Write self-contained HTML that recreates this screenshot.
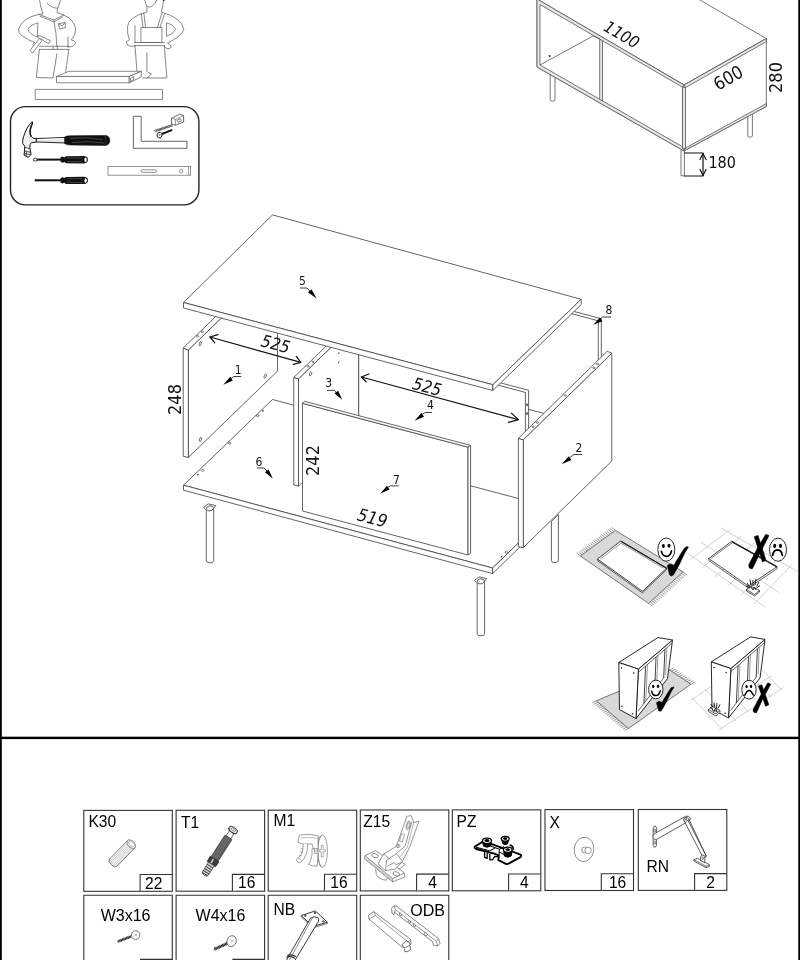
<!DOCTYPE html>
<html>
<head>
<meta charset="utf-8">
<title>Assembly</title>
<style>
html,body{margin:0;padding:0;background:#fff;}
body{width:800px;height:960px;overflow:hidden;position:relative;}
svg{position:absolute;left:0;top:0;display:block;will-change:transform;}
.ln{stroke:#484848;stroke-width:0.85;fill:none;stroke-linejoin:round;stroke-linecap:round;}
.lw{stroke:#484848;stroke-width:0.85;fill:#fff;stroke-linejoin:round;}
.thin{stroke:#555;stroke-width:0.7;fill:none;stroke-linejoin:round;stroke-linecap:round;}
.thinw{stroke:#555;stroke-width:0.7;fill:#fff;stroke-linejoin:round;}
.dim{font-family:"DejaVu Sans Condensed","DejaVu Sans",sans-serif;font-style:oblique;fill:#111;}
.dimr{font-family:"DejaVu Sans Condensed","DejaVu Sans",sans-serif;fill:#111;}
.num{font-family:"DejaVu Sans Condensed","DejaVu Sans",sans-serif;font-size:12px;fill:#111;}
.lab{font-family:"Liberation Sans",Arial,sans-serif;font-size:15.6px;fill:#000;}
.box{fill:#fff;stroke:#333;stroke-width:1.1;}
</style>
</head>
<body>
<svg width="800" height="960" viewBox="0 0 800 960">
<rect x="0" y="0" width="800" height="960" fill="#fff"/>
<!-- page frame -->
<rect x="0" y="0" width="1.8" height="960" fill="#000"/>
<rect x="798.3" y="0" width="1.7" height="960" fill="#000"/>
<rect x="0" y="736.7" width="800" height="2.4" fill="#000"/>

<!--MAIN-->
<g id="main">
<!-- bottom panel 6 -->
<polygon class="lw" points="183.5,485.2 272.5,399.5 581.8,481.5 492.6,568"/>
<polygon class="lw" points="183.5,485.2 492.6,568 492.6,573.6 183.5,490.2"/>
<polygon class="lw" points="492.6,568 581.8,481.5 581.8,487 492.6,573.6"/>
<!-- holes bottom panel -->
<g fill="none" stroke="#444" stroke-width="0.7">
<ellipse cx="202.6" cy="470.4" rx="1.3" ry="0.9"/><circle cx="198" cy="474.8" r="0.5" fill="#444"/>
<ellipse cx="229.6" cy="443.3" rx="1.3" ry="0.9"/>
<ellipse cx="257.6" cy="415.6" rx="1.3" ry="0.9"/><circle cx="263" cy="410.8" r="0.5" fill="#444"/>
<ellipse cx="506.4" cy="552.3" rx="1.3" ry="0.9"/><circle cx="501.6" cy="556.7" r="0.5" fill="#444"/>
</g>
<!-- back panel 8 -->
<polygon class="lw" points="420,270.7 601.3,318.7 601.3,428.6 420,380.6"/>
<line class="ln" x1="598.3" y1="320.8" x2="598.3" y2="427.8"/>
<polyline class="ln" points="570,313.3 598.3,320.8"/>
<!-- back panel 4 -->
<polygon class="lw" points="358.6,345.2 528.6,390.3 528.6,501.2 358.6,456"/>
<line class="ln" x1="525.4" y1="392.4" x2="525.4" y2="500.4"/>
<line class="ln" x1="470" y1="377.7" x2="525.4" y2="392.4"/>
<ellipse cx="527" cy="404.8" rx="0.7" ry="1.1" fill="#666" stroke="#333" stroke-width="0.7"/>
<ellipse cx="527" cy="413.5" rx="0.7" ry="1.1" fill="#666" stroke="#333" stroke-width="0.7"/>
<!-- panel 1 -->
<polygon class="lw" points="188.3,350 277.5,263.6 277.5,371.1 188.3,457.5"/>
<polygon class="lw" points="183.2,348 188.3,350 188.3,457.5 183.2,456.2"/>
<polygon class="lw" points="183.2,348 188.3,350 277.5,263.6 272.4,261.6"/>
<g fill="none" stroke="#444" stroke-width="0.7">
<ellipse cx="200.2" cy="343.8" rx="1" ry="2.2" transform="rotate(18 200.2 343.8)"/>
<ellipse cx="265.2" cy="376.2" rx="1" ry="2.2" transform="rotate(18 265.2 376.2)"/>
<ellipse cx="200.5" cy="439.5" rx="1" ry="2.2" transform="rotate(18 200.5 439.5)"/>
<ellipse cx="197.6" cy="336.3" rx="1.1" ry="0.8"/><ellipse cx="202.4" cy="331.8" rx="1.1" ry="0.8"/>
</g>
<!-- panel 3 -->
<polygon class="lw" points="298.5,378.8 358.6,320.6 358.6,428 298.5,486.2"/>
<polygon class="lw" points="293.75,377.5 298.5,378.8 298.5,486.2 293.75,485"/>
<polygon class="lw" points="293.75,377.5 298.5,378.8 358.6,320.6 353.8,319.4"/>
<g fill="none" stroke="#444" stroke-width="0.7">
<ellipse cx="310.6" cy="373.8" rx="1" ry="2.2" transform="rotate(18 310.6 373.8)"/>
<ellipse cx="308.2" cy="366.4" rx="1.1" ry="0.8"/><ellipse cx="313" cy="361.9" rx="1.1" ry="0.8"/>
<line x1="339" y1="352.3" x2="338.5" y2="354" stroke-width="1"/><line x1="339" y1="361.6" x2="338.5" y2="363.4" stroke-width="1"/>
</g>
<!-- panel 7 -->
<polygon class="lw" points="302.5,403.3 468,447.2 468,555 302.5,511"/>
<polygon class="lw" points="302.5,403.3 304.5,401.25 470.6,445.4 468,447.2"/>
<polygon class="lw" points="468,447.2 470.6,445.4 470.6,553.2 468,555"/>
<!-- panel 2 -->
<polygon class="lw" points="523.3,439.8 611.8,353.2 611.8,461 523.3,547.6"/>
<polygon class="lw" points="518.4,438.3 523.3,439.8 523.3,547.6 518.4,546.6"/>
<polygon class="lw" points="518.4,438.3 523.3,439.8 611.8,353.2 607.2,351.3"/>
<g fill="none" stroke="#444" stroke-width="0.7">
<ellipse cx="593.8" cy="367.8" rx="1.1" ry="0.8"/><ellipse cx="597.6" cy="364" rx="1.1" ry="0.8"/>
<ellipse cx="565.3" cy="395.5" rx="1.1" ry="0.8"/>
<ellipse cx="533" cy="426.8" rx="1.1" ry="0.8"/><ellipse cx="537.3" cy="422.5" rx="1.1" ry="0.8"/>
</g>
<!-- top panel 5 -->
<polygon class="lw" points="272.5,214.9 183.5,302.5 492.8,384.7 581.2,299.3"/>
<polygon class="lw" points="183.5,302.5 492.8,384.7 492.8,390.5 183.5,308"/>
<polygon class="lw" points="492.8,384.7 581.2,299.3 581.2,304.6 492.8,390.5"/>
</g>
<g id="legs">
<!-- leg 1 -->
<path class="lw" d="M206.3,509.5 L206.3,560.6 Q206.3,562.8 210,562.8 Q213.7,562.8 213.7,560.6 L213.7,509.5 Z"/>
<path class="lw" d="M203.6,507.4 L208.2,503.9 L215.8,505.6 L211.6,510.6 Q209,511.6 206.3,509.8 Z"/>
<path class="ln" d="M206.3,508.6 Q206.5,506 210,505.8 Q213.5,505.8 213.7,508.2"/>
<!-- leg 2 -->
<path class="lw" d="M477.2,582.5 L477.2,633.6 Q477.2,635.8 480.9,635.8 Q484.6,635.8 484.6,633.6 L484.6,582.5 Z"/>
<path class="lw" d="M474.5,580.4 L479.1,576.9 L486.7,578.6 L482.5,583.6 Q479.9,584.6 477.2,582.8 Z"/>
<path class="ln" d="M477.2,581.6 Q477.4,579 480.9,578.8 Q484.4,578.8 484.6,581.2"/>
<!-- leg 3 -->
<path class="lw" d="M551.4,521.5 L551.4,560.4 Q551.4,562.6 554.9,562.6 Q558.4,562.6 558.4,560.4 L558.4,514.5 Z" />
</g>
<g id="arrows" stroke="#111" stroke-width="1.25" fill="none" stroke-linecap="round" stroke-linejoin="round">
<line x1="210" y1="337" x2="300.8" y2="362.4"/>
<polyline points="218,334.6 210,337 214.8,342.8"/>
<polyline points="296.3,356.4 300.8,362.4 293.3,364.4"/>
<line x1="361.4" y1="377" x2="518.4" y2="419.6"/>
<polyline points="368.9,374 361.4,377 366.1,381.8"/>
<polyline points="511.4,413.1 518.4,419.6 508.4,422.3"/>
</g>
<g id="dims">
<text class="dim" font-size="17" transform="translate(260,346) rotate(14.8)">525</text>
<text class="dim" font-size="17" transform="translate(411.5,388.8) rotate(14.8)">525</text>
<text class="dim" font-size="17.5" transform="translate(356.3,520) rotate(14.8)">519</text>
<text class="dimr" font-size="18" text-anchor="middle" transform="translate(181.3,399.5) rotate(-90)">248</text>
<text class="dimr" font-size="18" text-anchor="middle" transform="translate(319,460.5) rotate(-90)">242</text>
</g>
<g id="nums" stroke="#111" stroke-width="0.8" fill="none">
<text class="num" stroke="none" x="299" y="285">5</text><polyline points="300,288 307,288 310.5,291.5"/><polygon points="316.6,298.6 307.9,292.2 311.6,289.6" fill="#000" stroke="none"/>
<text class="num" stroke="none" x="234.8" y="373.8">1</text><polyline points="241.3,376.5 234,376.5 230,379"/><polygon points="223.4,384.8 230.2,376.8 232.8,380.6" fill="#000" stroke="none"/>
<text class="num" stroke="none" x="325.2" y="387.3">3</text><polyline points="326.9,390.4 334.4,390.4 337,393"/><polygon points="342.2,399.8 334.4,393.2 338.2,390.8" fill="#000" stroke="none"/>
<text class="num" stroke="none" x="427" y="408.8">4</text><polyline points="432,412.5 425,412.5 421.5,415"/><polygon points="414.6,420.8 421.4,413 424,416.8" fill="#000" stroke="none"/>
<text class="num" stroke="none" x="255.6" y="465.5">6</text><polyline points="257,468 264,468 267.5,471.5"/><polygon points="272.8,478.6 264.9,472.2 268.6,469.6" fill="#000" stroke="none"/>
<text class="num" stroke="none" x="393" y="483.8">7</text><polyline points="398.8,485.8 390.5,485.8 387,488"/><polygon points="380.4,493.4 387,485.8 389.6,489.6" fill="#000" stroke="none"/>
<text class="num" stroke="none" x="575.4" y="452">2</text><polyline points="582,454.5 574,454.5 570,457.5"/><polygon points="561.6,464.2 568.8,456.2 571.4,460" fill="#000" stroke="none"/>
<text class="num" stroke="none" x="605.4" y="313.8">8</text><polyline points="611,317 602.5,317 599.5,319.5"/><polygon points="593.4,324.8 599.8,317.4 602.4,321.2" fill="#000" stroke="none"/>
</g>
<!--/MAIN-->
<!--TOPRIGHT-->
<g id="topright" stroke="#555" stroke-width="0.8" fill="none" stroke-linejoin="round">
<!-- legs behind -->
<path d="M550.2,74 L550.2,99.6 Q550.2,101.2 552.6,101.2 Q555,101.2 555,99.6 L555,76" fill="#fff"/>
<path d="M747.8,112 L747.8,135.6 Q747.8,137.2 750.1,137.2 Q752.4,137.2 752.4,135.6 L752.4,110" fill="#fff"/>
<path d="M681,150 L681,175.8 L684.4,175.8 L684.4,150" fill="#fff"/>
<!-- top face -->
<polygon points="528.3,-5 684,85 766.3,38.6 691.4,-5" fill="#fff"/>
<!-- front face outer -->
<polygon points="537,-1 684,85 684,151 537,67" fill="#fff"/>
<!-- strips -->
<polygon points="537,-1 684,85 684,88 540,4.5 540,65 684,147.6 684,151 537,67" fill="#e6e6e6"/>
<polygon points="682.5,87.2 685.5,87.2 685.5,148.5 682.5,148.5" fill="#e6e6e6"/>
<!-- interior left compartment -->
<polyline points="540,65 593,36 600,38.8"/>
<polygon points="599.7,39.2 602.5,40.8 602.5,101 599.7,99.4" fill="#e6e6e6"/>
<circle cx="549.6" cy="56" r="1" fill="#222" stroke="none"/>
<!-- right face -->
<polygon points="684,85 766.3,38.6 766.3,106.5 684,151" fill="#fff"/>
<polygon points="684,85 766.3,38.6 766.3,41.6 685.5,87.6" fill="#e6e6e6"/>
<polygon points="685.5,148 766.3,103.6 766.3,106.5 684,151" fill="#e6e6e6"/>
<polygon points="682.5,87.2 685.5,87.2 685.5,148.5 682.5,148.5" fill="#e6e6e6"/>
</g>
<g id="tr-dim" stroke="#111" stroke-width="1.2" fill="none" stroke-linecap="round" stroke-linejoin="round">
<polyline points="684.6,153 703,153"/><polyline points="684.6,176 703,176"/>
<line x1="703" y1="153.6" x2="703" y2="175.4"/>
<polyline points="700,159.5 703,153.6 706,159.5"/><polyline points="700,169.5 703,175.4 706,169.5"/>
</g>
<text class="dimr" font-size="16" x="708.4" y="167.6">180</text>
<text class="dimr" font-size="18" text-anchor="middle" transform="translate(782.4,77.5) rotate(-90)">280</text>
<text class="dim" font-size="16.5" transform="translate(602.5,30) rotate(30)">1100</text>
<text class="dimr" font-size="18" transform="translate(718,91) rotate(-30)">600</text>
<!--/TOPRIGHT-->
<!--PEOPLE-->
<g id="people" class="thin">
<!-- figure 1 -->
<path d="M39.4,-1 Q40.5,8 43,13.8 L38.8,14.4 Q22,18 18.8,28.8 Q18,33.5 22.5,36 Q28,40 34.4,42.5"/>
<path d="M61,-1 Q59,5 57.6,8.6 L57,12.6 L63.8,15 Q74,19.5 75.6,28.8 Q76,35 71.3,40 Q75,40.5 75.6,42.5 Q75,46 70,46.9 L68,46.9"/>
<path d="M47,3 Q51,8.2 57.5,8.2"/>
<path d="M38.8,14.4 L53.8,20 L63.8,15"/><path d="M40,16.3 L53.8,21.8 L62.5,17"/>
<path d="M37.5,23 Q29,25.5 28,29.4 Q29,34 36.9,36.9 Z"/>
<path d="M53.8,20 Q56.5,33 56.9,46.3"/>
<path d="M58.8,23.8 L65,22.5 L65.6,27.5 L60,28.8 Z"/><path d="M58.8,23.8 L62.3,26 L65,22.5"/>
<path d="M68,37 L68,46.9"/>
<path d="M39.4,46.3 L68.8,46.3 M39.4,49.4 L68.8,49.4 M53.2,46.3 L53.2,49.4 M57.4,46.3 L57.4,49.4"/>
<path d="M39.4,49.4 L36.3,77.5 L53,78 L56.9,53.8"/>
<path d="M68.8,49.4 L65.6,72.5"/>
<!-- hammer in hand -->
<path d="M30.2,50.2 L39.6,38.4 L42.2,40.4 L32.8,52.6 Z" fill="#fff"/>
<path d="M39,35.4 L50.4,40.6 L48.6,43.6 L44.6,41.4 L42.6,39.6 L38,37.6 Z" fill="#fff"/>
<path d="M34.4,42.5 Q32,44 33,45.6"/>
<!-- box -->
<path d="M56.9,76.4 L68.8,71.3 L141.3,71.3 L129.4,76.4 Z" fill="#fff"/>
<path d="M56.9,76.4 L129.4,76.4 L129.4,82.8 L56.9,82.8 Z" fill="#fff"/>
<path d="M129.4,76.4 L141.3,71.3 L141.3,76.9 L129.4,82.8 Z" fill="#fff"/>
<path d="M130.8,78 L133.8,76.5 L133.8,79.6 L130.8,81.2 Z"/>
<rect x="35.6" y="89.4" width="126.9" height="10.2" fill="#fff"/>
<!-- figure 2 -->
<path d="M144.4,-1 Q145.5,4 146.9,6.3 Q152.5,9.5 157.5,-1"/>
<path d="M146.9,7 L146.9,12 Q128,17 127.5,27 Q127,34 129.4,40 Q126.5,41 126.3,42 Q127,46 130,46.3 L134.4,46.3"/>
<path d="M163.8,0.6 L161.3,12 Q182,18 183.8,29.4 Q182,36 167.5,43 Q171,44.5 171.3,47.5 Q169,48.8 166.9,48.8 L164.4,46.3"/>
<circle cx="163.8" cy="0" r="0.9" fill="#222" stroke="none"/>
<path d="M166.9,23 Q174,25 175.6,29.4 Q174,33.5 166.9,36.3 Z"/>
<path d="M141.3,13.8 L143,27.5 M143.8,13 L145.6,27.5 M161.9,13 L157.5,27.3 M164.4,14.4 L160,27.5"/>
<rect x="141.3" y="27.5" width="20.6" height="15" />
<path d="M135,25.6 L135,42.5"/>
<path d="M134.4,42.5 L164.4,42.5 M134.4,45.6 L164.4,45.6"/>
<path d="M135,45.6 L136.9,70.6"/>
<path d="M146.9,53 L146.9,71.3 Q149,73.5 151.3,73.8 L147.5,78"/>
<path d="M142.5,78 L166.9,78 L166.2,70 L165.6,62 L164.9,54 L164.4,45.6"/>
</g>
<!--/PEOPLE-->
<!--TOOLS-->
<g id="tools">
<rect x="10.5" y="106.6" width="188.4" height="98.3" rx="15" ry="15" fill="#fff" stroke="#222" stroke-width="1.4"/>
<!-- hammer -->
<path d="M36,138.6 L66,137.4 L66,143 L36,142 Z" fill="#e6e6e6" stroke="#111" stroke-width="0.9"/>
<path d="M38,139.6 L64,138.8" stroke="#fff" stroke-width="1" fill="none"/>
<path d="M32.1,121.6 Q26.5,127 23.6,136.6 Q22.2,141 22.7,143.6 L24.8,146.2 L24.1,155.2 L28.1,157.4 L31.1,154.6 L29.8,147.4 Q29.6,143.6 31.6,142.6 L36.2,142 L36.2,138.6 Q33,138.8 31.4,136.8 Q28.6,131 32.8,123 Z" fill="#f2f2f2" stroke="#111" stroke-width="1" stroke-linejoin="round"/>
<path d="M32.4,123.2 Q28.4,131 31,136.6" stroke="#111" stroke-width="1.3" fill="none"/>
<path d="M24.6,147.4 L29.8,148.6 M24.3,151 L30.4,152.2 M24.2,153.6 L30.8,154.6" stroke="#111" stroke-width="0.7" fill="none"/>
<path d="M26.4,152 L26.4,156.2" stroke="#111" stroke-width="0.6" fill="none"/>
<path d="M64.6,137 Q67,135.6 71,135.8 L105.6,135.4 Q109.8,136.2 109.8,140.4 Q109.8,144.6 105.6,145.4 L71,145 Q67,145.2 64.6,143.6 Z" fill="#111" stroke="#111" stroke-width="0.6"/>
<path d="M70,138.4 Q86,136.6 103,139.6 M72,142.6 Q88,140.4 104,143" stroke="#666" stroke-width="0.6" fill="none"/>
<path d="M105.4,136 L105.4,145" stroke="#555" stroke-width="0.5"/>
<!-- screwdriver 1 -->
<path d="M36,159.6 L61,159.6" stroke="#111" stroke-width="2" fill="none"/>
<ellipse cx="35.2" cy="159.6" rx="1.9" ry="1.5" fill="#fff" stroke="#111" stroke-width="0.8"/>
<path d="M60.5,157.6 L62.4,156.6 L64.4,157.4 L66,156.2 L84,156 Q87.9,156.4 87.9,159.7 Q87.9,163 84,163.4 L66,163.2 L64.4,162 L62.4,162.8 L60.5,161.8 Z" fill="#111"/>
<ellipse cx="85.6" cy="159.7" rx="1.6" ry="2.5" fill="#fff" stroke="#111" stroke-width="0.6"/>
<path d="M67,158 L82,157.8 M67,161.6 L82,161.8" stroke="#777" stroke-width="0.5"/>
<!-- screwdriver 2 -->
<path d="M35,180.3 L61,180.3" stroke="#111" stroke-width="2" fill="none"/>
<path d="M34,180.3 L36.5,179.2 L36.5,181.4 Z" fill="#111"/>
<path d="M60.5,178.3 L62.4,177.3 L64.4,178.1 L66,176.9 L84,176.7 Q87.9,177.1 87.9,180.4 Q87.9,183.7 84,184.1 L66,183.9 L64.4,182.7 L62.4,183.5 L60.5,182.5 Z" fill="#111"/>
<ellipse cx="85.6" cy="180.4" rx="1.6" ry="2.5" fill="#fff" stroke="#111" stroke-width="0.6"/>
<path d="M67,178.7 L82,178.5 M67,182.3 L82,182.5" stroke="#777" stroke-width="0.5"/>
<!-- square -->
<path d="M133.4,116.3 L141.2,116.3 L141.2,141.3 L187,141.3 L187,148.3 L133.4,148.3 Z" fill="#fff" stroke="#555" stroke-width="0.9"/>
<!-- tape / screw -->
<path d="M171.6,118.2 L179.8,114.2 L183.6,115.6 L183.6,122 L175.4,125.2 L171.6,124 Z" fill="#fff" stroke="#444" stroke-width="0.8" stroke-linejoin="round"/>
<path d="M171.6,118.2 L175.4,119.4 L183.6,115.6 M175.4,119.4 L175.4,125.2" fill="none" stroke="#555" stroke-width="0.6"/>
<rect x="177.4" y="119.2" width="3.6" height="2.6" rx="0.6" transform="rotate(-20 179.2 120.5)" fill="#fff" stroke="#333" stroke-width="0.6"/>
<path d="M172.4,124.4 L154.6,130.4 L155.2,131.8 L173,125.8" fill="#ddd" stroke="#333" stroke-width="0.6"/>
<path d="M156.5,130.6 L171.5,125.6" stroke="#333" stroke-width="1.6" stroke-dasharray="0.6 0.7" fill="none"/>
<path d="M162,134 L171.6,130.2" stroke="#111" stroke-width="1.9" stroke-dasharray="1.1 0.5" fill="none" stroke-linecap="round"/>
<ellipse cx="159.6" cy="135.1" rx="2.5" ry="2.9" transform="rotate(20 159.6 135.1)" fill="#fff" stroke="#111" stroke-width="0.9"/>
<path d="M158.6,134.2 L160.6,136 M160.6,134 L158.8,136.2" stroke="#333" stroke-width="0.5"/>
<!-- level -->
<rect x="108" y="166.4" width="82.6" height="8.8" fill="#fff" stroke="#777" stroke-width="0.8"/>
<line x1="188.6" y1="166.4" x2="188.6" y2="175.2" stroke="#777" stroke-width="0.7"/>
<rect x="141" y="169.8" width="15.5" height="2.6" rx="1.3" fill="#fff" stroke="#666" stroke-width="0.7"/>
<circle cx="181.2" cy="171.3" r="1.7" fill="#fff" stroke="#666" stroke-width="0.7"/>
</g>
<!--/TOOLS-->
<!--ICONS-->
<g id="icons">
<path d="M580.4,556.0l-3.8,-3.1 M582.1,554.8l-3.8,-3.1 M583.7,553.6l-3.8,-3.1 M585.4,552.3l-3.8,-3.1 M587.1,551.1l-3.8,-3.1 M588.7,549.9l-3.8,-3.1 M590.4,548.7l-3.8,-3.1 M592.1,547.5l-3.8,-3.1 M593.7,546.2l-3.8,-3.1 M595.4,545.0l-3.8,-3.1 M597.1,543.8l-3.8,-3.1 M598.7,542.6l-3.8,-3.1 M600.4,541.4l-3.8,-3.1 M602.1,540.2l-3.8,-3.1 M603.7,538.9l-3.8,-3.1 M605.4,537.7l-3.8,-3.1 M607.1,536.5l-3.8,-3.1 M608.7,535.3l-3.8,-3.1 M610.4,534.1l-3.8,-3.1 M612.1,532.8l-3.8,-3.1 M613.7,531.6l-3.8,-3.1 M615.4,530.4l-3.8,-3.1" stroke="#444" stroke-width="0.55" fill="none"/>
<path d="M648.5,603.3l3.8,3.1 M650.1,601.9l3.8,3.1 M651.6,600.4l3.8,3.1 M653.2,599.0l3.8,3.1 M654.8,597.6l3.8,3.1 M656.3,596.1l3.8,3.1 M657.9,594.7l3.8,3.1 M659.5,593.3l3.8,3.1 M661.0,591.8l3.8,3.1 M662.6,590.4l3.8,3.1 M664.2,589.0l3.8,3.1 M665.8,587.5l3.8,3.1 M667.3,586.1l3.8,3.1 M668.9,584.7l3.8,3.1 M670.5,583.3l3.8,3.1 M672.0,581.8l3.8,3.1 M673.6,580.4l3.8,3.1 M675.2,579.0l3.8,3.1 M676.7,577.5l3.8,3.1 M678.3,576.1l3.8,3.1 M679.9,574.7l3.8,3.1 M681.4,573.2l3.8,3.1 M683.0,571.8l3.8,3.1" stroke="#444" stroke-width="0.55" fill="none"/>
<polygon points="580.4,556 615.4,530.4 683,571.8 648.5,603.3" fill="#d8d8d8" stroke="#444" stroke-width="0.7"/>
<polygon points="597.5,559 620.8,541 666.5,568 642.5,591.3" fill="#fff" stroke="#222" stroke-width="0.8"/>
<polyline points="597.5,559 597.5,560.6 642.5,592.9 666.5,569.6 666.5,568" fill="none" stroke="#222" stroke-width="0.7"/>
<polyline points="600.3,559.2 621,543.2 663.6,568.2" fill="none" stroke="#555" stroke-width="0.6"/><polyline points="620.8,541.3 666.5,568.3" fill="none" stroke="#222" stroke-width="1.3"/>
<ellipse cx="666.3" cy="549.6" rx="8.5" ry="11.6" fill="#fff" stroke="#111" stroke-width="0.9"/>
<ellipse cx="663.4" cy="546" rx="1.5" ry="2" fill="#000"/><ellipse cx="669" cy="545.8" rx="1.5" ry="2" fill="#000"/>
<path d="M661.4,551.4 Q662.6,556.4 666.3,556.4 Q670.4,556.2 671.5,550.9" fill="none" stroke="#000" stroke-width="1.7" stroke-linecap="round"/>
<path d="M667.2,565.6 L670,563.9 L673.8,564.9 L673,567.5 L676,561.5 L682,551.8 L685,547.4 L688,546.6 L688.4,547.3 L685,552.5 L679,565.3 L673.4,575 L671.5,576.1 L669.6,575 Z" fill="#000" stroke="#000" stroke-width="0.5" stroke-linejoin="round"/>
<path d="M686.6,552.7L765.4,607.3 M720.6,528.0L798.4,572.0 M700.9,542.3L779.3,592.5 M690.6,559.5L730.1,529.7 M702.2,567.6L741.4,536.0 M715.2,576.7L754.1,543.1 M728.1,585.7L766.9,550.2 M741.0,594.8L779.6,557.3 M754.0,603.9L792.3,564.4" stroke="#c6c6c6" stroke-width="0.8" fill="none"/>
<polygon points="708.7,558.5 731.7,541.3 777,566.7 748.3,586" fill="#fff" stroke="#222" stroke-width="0.8"/>
<polyline points="708.7,558.5 708.7,560.4 748.3,588 777,568.7 777,566.7" fill="none" stroke="#222" stroke-width="0.7"/>
<polyline points="711,558.4 731.9,543" fill="none" stroke="#444" stroke-width="0.7"/><polyline points="731.7,541.6 777,566.9" fill="none" stroke="#222" stroke-width="1.4"/>
<path d="M765.8,534.3 L769,535.6 L760,553 L752.6,568.4 Q750.4,569.4 749,567.6 L748.8,564.6 L757,549 Z" fill="#000" stroke="#000" stroke-width="0.6" stroke-linejoin="round"/>
<path d="M754.2,536.7 L758,535.4 L766,560.2 L762.5,561.9 Z" fill="#000" stroke="#000" stroke-width="0.6" stroke-linejoin="round"/>
<ellipse cx="778" cy="549.7" rx="8.5" ry="11.6" fill="#fff" stroke="#111" stroke-width="0.9"/>
<ellipse cx="774.7" cy="545.9" rx="1.5" ry="2.1" fill="#000"/><ellipse cx="780.5" cy="545.9" rx="1.5" ry="2.1" fill="#000"/>
<path d="M772.7,555.3 Q773.4,550 777.5,549.9 Q781.6,550 782.3,555.3" fill="none" stroke="#000" stroke-width="1.8" stroke-linecap="round"/>
<path d="M746.5,589.5 L751.5,586.5 L759.5,590.5 L754.5,594.5 Z M746.5,589.5 L746.5,591 L754.5,596 L759.5,592 L759.5,590.5" fill="#fff" stroke="#111" stroke-width="0.7"/>
<path d="M747,583 l2.5,4 M750,579.5 l1,6 M753,580 l0,6 M756,579 l-1,6.5 M759,582 l-2.5,4.5 M746,586 l4,2 M760,585.5 l-3.5,2.5 M751,587 l2,3 l1.5,-3 l1.5,3" fill="none" stroke="#111" stroke-width="0.95"/>
<path d="M596.3,700.8l-3.9,2.0 M597.9,702.2l-3.9,2.0 M599.5,703.6l-3.9,2.0 M601.1,705.0l-3.9,2.0 M602.7,706.3l-3.9,2.0 M604.3,707.7l-3.9,2.0 M606.0,709.1l-3.9,2.0 M607.6,710.5l-3.9,2.0 M609.2,711.9l-3.9,2.0 M610.8,713.3l-3.9,2.0 M612.4,714.6l-3.9,2.0 M614.0,716.0l-3.9,2.0 M615.6,717.4l-3.9,2.0 M617.2,718.8l-3.9,2.0 M618.8,720.2l-3.9,2.0 M620.5,721.6l-3.9,2.0 M622.1,723.0l-3.9,2.0 M623.7,724.3l-3.9,2.0 M625.3,725.7l-3.9,2.0 M626.9,727.1l-3.9,2.0 M628.5,728.5l-3.9,2.0" stroke="#444" stroke-width="0.55" fill="none"/>
<path d="M669.8,670.0l3.9,-2.0 M671.7,671.3l3.9,-2.0 M673.6,672.6l3.9,-2.0 M675.5,673.9l3.9,-2.0 M677.4,675.2l3.9,-2.0 M679.3,676.5l3.9,-2.0 M681.3,677.8l3.9,-2.0 M683.2,679.1l3.9,-2.0 M685.1,680.4l3.9,-2.0 M687.0,681.7l3.9,-2.0 M688.9,683.0l3.9,-2.0 M690.8,684.3l3.9,-2.0" stroke="#444" stroke-width="0.55" fill="none"/>
<polygon points="596.3,700.8 669.8,670 690.8,684.3 628.5,728.5" fill="#d8d8d8" stroke="#444" stroke-width="0.7"/>
<polygon points="638.4,669.1 672.5,640.0 667.5,678.6 636.0,718.6" fill="#fff" stroke="#111" stroke-width="0.9" stroke-linejoin="round"/>
<polyline points="638.5,672.2 672.1,643.1" fill="none" stroke="#222" stroke-width="0.7"/>
<polyline points="638.1,711.0 664.1,677.2" fill="none" stroke="#222" stroke-width="0.7"/>
<path d="M645.6,666.2L643.9,703.4" stroke="#111" stroke-width="0.8" fill="none"/>
<path d="M647.5,664.6L645.8,701.0" stroke="#555" stroke-width="0.6" fill="none"/>
<path d="M656.0,657.2L654.7,689.6" stroke="#111" stroke-width="0.8" fill="none"/>
<path d="M657.9,655.6L656.6,687.2" stroke="#555" stroke-width="0.6" fill="none"/>
<path d="M664.9,649.5L663.7,677.8" stroke="#111" stroke-width="0.8" fill="none"/>
<path d="M666.8,647.9L665.6,675.4" stroke="#555" stroke-width="0.6" fill="none"/>
<polygon points="618.8,662.5 658.0,637.5 672.5,640.0 638.4,669.1" fill="#fff" stroke="#111" stroke-width="0.9" stroke-linejoin="round"/>
<polygon points="618.8,662.5 638.4,669.1 636.0,718.6 619.5,709.6" fill="#fff" stroke="#111" stroke-width="0.9" stroke-linejoin="round"/>
<circle cx="621.5" cy="668.0" r="0.75" fill="#111"/>
<circle cx="633.7" cy="673.0" r="0.75" fill="#111"/>
<circle cx="621.9" cy="706.2" r="0.75" fill="#111"/>
<circle cx="632.5" cy="713.8" r="0.75" fill="#111"/>
<ellipse cx="655.8" cy="689.5" rx="7.2" ry="9.4" fill="#fff" stroke="#111" stroke-width="0.9"/>
<ellipse cx="653.2" cy="686.4" rx="1.2" ry="1.7" fill="#000"/><ellipse cx="658" cy="686.2" rx="1.2" ry="1.7" fill="#000"/>
<path d="M651.6,691.2 Q652.8,695.6 655.8,695.6 Q659.2,695.4 660.2,690.8" fill="none" stroke="#000" stroke-width="1.5" stroke-linecap="round"/>
<path transform="translate(660,711.4) scale(0.83) translate(-671.5,-576.1)" d="M667.2,565.6 L670,563.9 L673.8,564.9 L673,567.5 L676,561.5 L682,551.8 L685,547.4 L688,546.6 L688.4,547.3 L685,552.5 L679,565.3 L673.4,575 L671.5,576.1 L669.6,575 Z" fill="#000" stroke="#000" stroke-width="0.5" stroke-linejoin="round"/>
<path d="M719.2,729.9L783.2,687.4 M690.4,700.4L754.3,658.2 M707.7,718.1L771.6,675.8 M722.8,729.5L691.6,697.6 M735.8,720.8L704.6,689.0 M748.8,712.2L717.6,680.5 M760.1,704.7L728.9,673.1 M771.3,697.2L740.1,665.6 M782.0,690.2L750.7,658.6" stroke="#c6c6c6" stroke-width="0.8" fill="none"/>
<polygon points="730.9,668.5 765.0,639.4 760.0,678.0 728.5,718.0" fill="#fff" stroke="#111" stroke-width="0.9" stroke-linejoin="round"/>
<polyline points="731.0,671.6 764.6,642.5" fill="none" stroke="#222" stroke-width="0.7"/>
<polyline points="730.6,710.4 756.6,676.6" fill="none" stroke="#222" stroke-width="0.7"/>
<path d="M738.1,665.6L736.4,702.8" stroke="#111" stroke-width="0.8" fill="none"/>
<path d="M740.0,664.0L738.3,700.4" stroke="#555" stroke-width="0.6" fill="none"/>
<path d="M748.5,656.6L747.2,689.0" stroke="#111" stroke-width="0.8" fill="none"/>
<path d="M750.4,655.0L749.1,686.6" stroke="#555" stroke-width="0.6" fill="none"/>
<path d="M757.4,648.9L756.2,677.2" stroke="#111" stroke-width="0.8" fill="none"/>
<path d="M759.3,647.3L758.1,674.8" stroke="#555" stroke-width="0.6" fill="none"/>
<polygon points="711.3,661.9 750.5,636.9 765.0,639.4 730.9,668.5" fill="#fff" stroke="#111" stroke-width="0.9" stroke-linejoin="round"/>
<polygon points="711.3,661.9 730.9,668.5 728.5,718.0 712.0,709.0" fill="#fff" stroke="#111" stroke-width="0.9" stroke-linejoin="round"/>
<circle cx="714.0" cy="667.4" r="0.75" fill="#111"/>
<circle cx="726.2" cy="672.4" r="0.75" fill="#111"/>
<circle cx="714.4" cy="705.6" r="0.75" fill="#111"/>
<circle cx="725.0" cy="713.2" r="0.75" fill="#111"/>
<ellipse cx="749" cy="689.7" rx="7.2" ry="9.4" fill="#fff" stroke="#111" stroke-width="0.9"/>
<ellipse cx="746.6" cy="686.6" rx="1.2" ry="1.7" fill="#000"/><ellipse cx="751" cy="686.4" rx="1.2" ry="1.7" fill="#000"/>
<path d="M744.8,695.2 Q749,686 753.2,695" fill="none" stroke="#000" stroke-width="1.5" stroke-linecap="round"/>
<path d="M758.4,686 L761.8,684.8 L768.8,704.8 L765.6,706.2 Z" fill="#000" stroke="#000" stroke-width="0.6" stroke-linejoin="round"/><path d="M767.8,682.8 L770.8,684.2 L762.6,699 L756.6,712.6 Q754.8,713.4 753.4,711.8 L753.2,709.4 L760,696.6 Z" fill="#000" stroke="#000" stroke-width="0.6" stroke-linejoin="round"/>
<path d="M708.5,709.5 L712.5,706.5 L720,710.5 L716,714 Z M708.5,709.5 L708.5,711.5 L716,716 L720,712.5 L720,710.5" fill="#fff" stroke="#111" stroke-width="0.7"/>
<path d="M711,704 l2,3.5 M714,702.5 l0.5,5 M717,703 l-0.5,5.5 M720,704.5 l-2,4 M710,707.5 l3,1.5 M712,709 l2,2.5 l1.5,-3 l1.5,2.5" fill="none" stroke="#111" stroke-width="0.95"/>
</g>
<!--/ICONS-->
<!--PARTS-->
<g id="parts">
<rect class="box" x="83.8" y="810.4" width="88.5" height="80.9"/>
<path class="box" fill="none" d="M140.1,891.3 V874.5 H172.3"/>
<text class="lab" x="88.4" y="827.1">K30</text>
<text class="lab" text-anchor="middle" x="153.8" y="888.5">22</text>
<rect class="box" x="176.1" y="810.3" width="88.5" height="80.9"/>
<path class="box" fill="none" d="M232.4,891.2 V874.4 H264.6"/>
<text class="lab" x="181.0" y="827.7">T1</text>
<text class="lab" text-anchor="middle" x="246.8" y="888.4">16</text>
<rect class="box" x="268.2" y="810.2" width="88.5" height="80.9"/>
<path class="box" fill="none" d="M324.5,891.1 V874.3 H356.7"/>
<text class="lab" x="273.4" y="825.6">M1</text>
<text class="lab" text-anchor="middle" x="339.0" y="888.3">16</text>
<rect class="box" x="360.3" y="810.0" width="88.5" height="80.9"/>
<path class="box" fill="none" d="M416.6,890.9 V874.1 H448.8"/>
<text class="lab" x="363.3" y="826.9">Z15</text>
<text class="lab" text-anchor="middle" x="432.5" y="888.1">4</text>
<rect class="box" x="452.3" y="809.9" width="88.5" height="80.9"/>
<path class="box" fill="none" d="M508.6,890.8 V874.0 H540.8"/>
<text class="lab" x="456.5" y="826.6">PZ</text>
<text class="lab" text-anchor="middle" x="524.4" y="888.0">4</text>
<rect class="box" x="545.0" y="809.6" width="88.5" height="80.9"/>
<path class="box" fill="none" d="M601.3,890.5 V873.7 H633.5"/>
<text class="lab" x="549.6" y="827.6">X</text>
<text class="lab" text-anchor="middle" x="617.6" y="887.7">16</text>
<rect class="box" x="638.3" y="809.5" width="88.5" height="80.9"/>
<path class="box" fill="none" d="M694.6,890.4 V873.6 H726.8"/>
<text class="lab" text-anchor="middle" x="710.5" y="887.6">2</text>
<text class="lab" x="646.6" y="871.5">RN</text>
<path class="box" d="M83.8,961 V895.3 H172.3 V961"/>
<path class="box" d="M176.1,961 V895.3 H264.6 V961"/>
<path class="box" d="M268.2,961 V895.3 H356.7 V961"/>
<path class="box" d="M360.3,961 V895.3 H448.8 V961"/>
<path class="box" fill="none" d="M140.6,961 V959.4 H172.3"/>
<path class="box" fill="none" d="M232.9,961 V959.4 H264.6"/>
<text class="lab" style="font-size:16px" text-anchor="middle" x="125.6" y="921">W3x16</text>
<text class="lab" style="font-size:16px" text-anchor="middle" x="220.5" y="921">W4x16</text>
<text class="lab" x="273.4" y="915">NB</text>
<text class="lab" style="font-size:16px" x="410.2" y="916">ODB</text>
<!--PARTICONS-->
<g id="particons">
<!-- K30 dowel -->
<g transform="translate(121.9,853.8) rotate(44)">
<path d="M-5.2,-13.4 L-5.2,12.4 Q-5.2,15.2 0,15.2 Q5.2,15.2 5.2,12.4 L5.2,-13.4 Z" fill="#fbfbfb" stroke="#555" stroke-width="0.7"/>
<path d="M-3.6,-11 V14 M-2,-11 V14.8 M-0.4,-11 V15.2 M1.2,-11 V15 M2.8,-11 V14.4 M4.2,-11 V13.4" stroke="#9a9a9a" stroke-width="0.5" fill="none"/>
<ellipse cx="0" cy="-13.4" rx="5.2" ry="3.2" fill="#fff" stroke="#555" stroke-width="0.7"/>
<ellipse cx="0" cy="-13.8" rx="3.7" ry="2.1" fill="#fff" stroke="#888" stroke-width="0.5"/>
</g>
<!-- T1 bolt -->
<g transform="translate(219.4,851.5) rotate(32.5)">
<path d="M-2.6,-24 L-2.9,-16.5 L2.9,-16.5 L2.6,-24 Z" fill="#fff" stroke="#333" stroke-width="0.7"/>
<ellipse cx="0" cy="-25.6" rx="4.8" ry="2.7" fill="#f2f2f2" stroke="#222" stroke-width="0.8"/>
<ellipse cx="0" cy="-26" rx="2.6" ry="1.3" fill="#ddd" stroke="#444" stroke-width="0.5"/>
<path d="M-4.8,-25.2 Q-4.6,-22.6 0,-22.4 Q4.6,-22.6 4.8,-25.2" fill="none" stroke="#222" stroke-width="0.7"/>
<rect x="-4.2" y="-17" width="8.4" height="26" rx="1" fill="#5c5c5c" stroke="#333" stroke-width="0.6"/>
<path d="M-2.4,-16 V8 M-0.6,-16 V8 M1.4,-16 V8" stroke="#8a8a8a" stroke-width="0.5" fill="none"/>
<path d="M-5.2,9 H5.2 L5,15 H-5 Z" fill="#3c3c3c" stroke="#222" stroke-width="0.6"/>
<path d="M-1,9.6 V14.6" stroke="#ddd" stroke-width="1.4"/>
<path d="M-3.4,15 L-3.4,26.4 Q-3.4,28.2 0,28.2 Q3.4,28.2 3.4,26.4 L3.4,15 Z" fill="#d8d8d8" stroke="#333" stroke-width="0.6"/>
<path d="M-3.6,17.4 H3.6 M-3.6,19.8 H3.6 M-3.6,22.2 H3.6 M-3.6,24.6 H3.6 M-3.2,26.8 H3.2" stroke="#333" stroke-width="0.9" fill="none"/>
</g>
<!-- M1 cam -->
<g fill="#fff" stroke="#777" stroke-width="0.7" stroke-linejoin="round">
<ellipse cx="322.6" cy="851.2" rx="4.8" ry="16.2"/>
<path d="M317.8,851 Q317.6,838 321,835.4 M318,853 Q318.4,864 321,867"  fill="none"/>
<path d="M321.2,845.4 h2 v4.2 h2.2 v2.2 h-2.2 v5 h-2 v-5 h-2 v-2.2 h2 Z" stroke-width="0.6"/>
<path d="M299.6,835 Q298,838.4 298,842.4 L303,844 L312,844 L313.4,848.6 L318.2,848.6 Q317.6,840 318.4,835.8 Q309,833.4 299.6,835 Z"/>
<path d="M300.4,838 Q309,836.4 317.8,838.4" fill="none" stroke-width="0.5"/>
<path d="M303.2,844 Q303.4,855 296.2,860 Q297,863 300.6,862.6 Q308,856 307.6,844" />
<path d="M300.4,848.6 l3,0.4 M300,852 l3.2,0.6 M299.2,855.2 l3,0.8 M298,858 l2.6,1.2" fill="none" stroke-width="0.5"/>
<path d="M312,848.6 L312,855 Q310.6,862 308.6,864.4 Q312,866.6 317.2,866 L318,853.4 L314.4,853.4 L314.4,848.6 Z"/>
<path d="M314.4,851 h3.6" fill="none"/>
</g>
<!-- Z15 hinge -->
<g fill="#fff" stroke="#666" stroke-width="0.7" stroke-linejoin="round">
<path d="M375.6,868.8 L376.4,874.6 Q379,879.6 386.4,880.2 L388,876"/>
<path d="M365,855.6 L375.6,850.6 L381.9,855 L404.4,873.1 L405,876.9 L392.5,881.9 L364.4,858.8 Z"/>
<path d="M365,855.6 L392.6,878.6 L404.4,873.1 M392.6,878.6 L392.5,881.9" fill="none"/>
<path d="M366,857.4 L392.4,879.6 M365.4,858.4 L392.4,880.8" fill="none" stroke-width="0.4"/>
<ellipse cx="375" cy="855.6" rx="3.4" ry="1.9" transform="rotate(18 375 855.6)"/>
<ellipse cx="396.3" cy="873.8" rx="3.4" ry="1.9" transform="rotate(18 396.3 873.8)"/>
<path d="M406.9,816.3 L411.2,815.6 L413.8,822.5 L418.8,821.3 L410,846.3 L402.5,861.3 L395.6,869 L385.6,870.6 L378,864 L383.8,853.8 L396.3,846.3 Z"/>
<path d="M411.9,821.9 L405,846.3 L396.4,853.6 L386.4,860.4 L385.6,870.6 M396.4,853.6 L402.5,861.3 M383.8,853.8 L390,859.4" fill="none"/>
<path d="M413.8,822.5 L407.4,847 L399.6,857.4" fill="none" stroke-width="0.5"/>
<ellipse cx="408.2" cy="825.4" rx="1.9" ry="4.4" transform="rotate(16 408.2 825.4)" stroke-width="0.6"/>
<ellipse cx="408.2" cy="825.4" rx="1" ry="3" transform="rotate(16 408.2 825.4)" stroke-width="0.5"/>
<path d="M401.6,833.6 L404.6,834.4 L402.4,842 L399.4,841.2 Z" stroke-width="0.6"/>
<ellipse cx="398" cy="846" rx="2" ry="1.7" stroke-width="0.6"/><ellipse cx="398" cy="846" rx="0.9" ry="0.8" stroke-width="0.5"/>
<path d="M387.6,866 L394,862.6 L396,864.6 L402,862.4 L405.4,864.4 L399,869.4" fill="none"/>
</g>
<!-- PZ plate -->
<g stroke="#000" stroke-linejoin="round">
<path d="M484.6,851 L484.6,857.4 L487.2,858.4 L487.2,853 M489.8,854 L489.8,859.8 L492.4,859.8 L494.8,856.4 L499.5,856.6" fill="#fff" stroke-width="1.3"/>
<path d="M474.6,846.8 L483.4,841.2 L520.6,854.6 Q521.8,856 520,857.4 L508.6,863.6 Q506.8,864.4 505.4,863.6 L498.4,860.2 L498.8,855.4 L493.6,853.4 L488.4,852.2 L476,849 Q474.2,848 474.6,846.8 Z" fill="#fff" stroke-width="1.9"/>
<path d="M476,847.2 L489.6,850.8 L495.4,847.8 L499.4,849.2 L504,846.4 M495.4,847.8 L490.4,846 M499.4,849.2 L499,855 M499.2,852 L505,855 M476.4,848.4 L488.6,851.6" fill="none" stroke-width="1"/>
<path d="M482.8,842.6 L483.4,846 Q487,848.4 490.6,846 L491.2,842.6 Z" fill="#000" stroke-width="1"/>
<ellipse cx="487" cy="840.8" rx="4.5" ry="2.7" fill="#fff" stroke-width="1.3"/>
<ellipse cx="487" cy="840.6" rx="2.6" ry="1.5" fill="#000" stroke="none"/>
<path d="M502,840.2 L502.8,843.8 Q505.2,845.4 507.6,843.8 L508.4,840.2 Z" fill="#000" stroke-width="1"/>
<ellipse cx="505.2" cy="838.8" rx="3.9" ry="2.4" fill="#fff" stroke-width="1.3"/>
<ellipse cx="505.2" cy="838.6" rx="2.2" ry="1.3" fill="#000" stroke="none"/>
<path d="M503.8,851.6 L504.4,856 Q507.8,858.4 511.2,856 L511.8,851.6 Z" fill="#000" stroke-width="1"/>
<ellipse cx="507.8" cy="849.8" rx="4.3" ry="2.6" fill="#fff" stroke-width="1.3"/>
<ellipse cx="507.8" cy="849.6" rx="2.4" ry="1.4" fill="#000" stroke="none"/>
<path d="M509.6,844.8 Q514,846 513,850" fill="none" stroke-width="1.6"/>
</g>
<!-- X cap -->
<g fill="none" stroke="#666" stroke-width="0.7">
<ellipse cx="584" cy="849.4" rx="9.8" ry="12.2" transform="rotate(8 584 849.4)" fill="#fff"/>
<circle cx="584.6" cy="850" r="3"/><circle cx="588.1" cy="850.4" r="3.2" fill="#fff"/>
</g>
<!-- RN stay -->
<g fill="#fff" stroke="#333" stroke-width="0.8" stroke-linejoin="round">
<path d="M653.2,827.6 Q653.2,826.2 654.8,826.2 Q656.4,826.2 656.4,827.6 L656.4,845.6 Q656.4,847 654.8,847 Q653.2,847 653.2,845.6 Z"/>
<ellipse cx="654.8" cy="830.6" rx="0.8" ry="1.6" stroke-width="0.6"/><ellipse cx="654.8" cy="842.6" rx="0.8" ry="1.6" stroke-width="0.6"/>
<path d="M654.6,833.6 L685.4,816.4 Q688.6,815.2 690.2,817.8 Q690.8,820 688.4,821.4 L656.6,839.4 Q654,840 653,837.4 Q652.8,835 654.6,833.6 Z"/>
<path d="M683.4,819.4 Q684.4,817 686.6,817.6 L706.4,856.4 L703.4,858.2 Z"/>
<path d="M685.6,817.8 L689,819.4 L706.4,856.4" fill="none"/>
<ellipse cx="685" cy="820.6" rx="1" ry="2" transform="rotate(-25 685 820.6)" stroke-width="0.6"/>
<ellipse cx="687.6" cy="819.2" rx="1" ry="2" transform="rotate(-25 687.6 819.2)" stroke-width="0.6"/>
<path d="M693.8,859.6 L697.6,858.4 L709.6,864.8 L709.4,866.4 L706,867.6 L693.8,861 Z"/>
<path d="M693.8,859.6 L706,866.2 L709.6,864.8 M706,866.2 V867.6" fill="none" stroke-width="0.6"/>
<path d="M700.6,860.6 L700.6,856.6 Q702.4,853.8 704.8,856 L704.8,862.8 Z"/>
<ellipse cx="702.8" cy="858.2" rx="0.9" ry="1.3" stroke-width="0.6"/>
</g>
<!-- W3x16 screw -->
<g>
<path d="M119,941.1 L131,936.4" stroke="#777" stroke-width="1.6" fill="none"/><path d="M118,941.5 L131,936.4" stroke="#222" stroke-width="2.8" stroke-dasharray="0.9 0.6" fill="none"/>
<path d="M117.4,941.9 L121,940.2" stroke="#555" stroke-width="1" fill="none"/>
<ellipse cx="135.6" cy="935" rx="4.2" ry="4.4" fill="#fff" stroke="#444" stroke-width="0.7"/>
<path d="M134.6,933.8 l2.4,2.2 M137,933.8 l-2.2,2.4" stroke="#777" stroke-width="0.6"/>
</g>
<!-- W4x16 screw -->
<g>
<path d="M215.4,948.8 L227.6,943.2" stroke="#777" stroke-width="1.8" fill="none"/><path d="M214.4,949.2 L227.6,943.2" stroke="#222" stroke-width="3.2" stroke-dasharray="0.9 0.6" fill="none"/>
<path d="M213.6,949.7 L217.4,947.8" stroke="#555" stroke-width="1" fill="none"/>
<ellipse cx="231.6" cy="941.2" rx="4.6" ry="5.6" transform="rotate(20 231.6 941.2)" fill="#fff" stroke="#444" stroke-width="0.7"/>
<path d="M231.2,940 l2.2,2 M233.4,940 l-2.2,2.2" stroke="#777" stroke-width="0.6"/>
</g>
<!-- NB leg -->
<g fill="#fff" stroke="#222" stroke-width="0.9" stroke-linejoin="round">
<path d="M301.2,915.6 L315.4,910.9 L327.3,922.2 L313,926.6 Z"/>
<path d="M301.2,915.6 L301.2,916.8 L313,927.8 L327.3,923.4 L327.3,922.2" fill="none" stroke-width="0.6"/>
<ellipse cx="305.4" cy="915.8" rx="0.9" ry="0.6"/><ellipse cx="315" cy="913" rx="0.9" ry="0.6"/><ellipse cx="323.4" cy="921.4" rx="0.9" ry="0.6"/><ellipse cx="313.2" cy="924.2" rx="0.9" ry="0.6"/>
<path d="M310.4,918.4 Q313.6,915.6 317.6,917.4 Q319.4,919 318.4,921.4 L294,962 L285.4,962 Z"/>
<path d="M312.6,917.6 L288.4,962" fill="none" stroke-width="0.5"/>
<path d="M287.4,955.6 Q291,953.6 295.8,956.4 M286.4,957.4 Q290.4,955.4 295,958.2" fill="none" stroke="#111" stroke-width="1.1"/>
</g>
<!-- ODB -->
<g fill="#fff" stroke="#555" stroke-width="0.7" stroke-linejoin="round">
<path d="M368.6,915.2 L373.6,911.6 L410.6,939.4 L411,944 L405,948 L401.4,946.6 L369,919 Z"/>
<path d="M373.6,911.6 L375.4,915.6 L408,942 L410.6,939.4 M375.4,915.6 L369,919" fill="none" stroke-width="0.6"/>
<path d="M402,944.6 L406.6,941 Q409.6,941.6 410.2,944.6 L405.8,948.2 Q402.6,947.8 402,944.6 Z" stroke="#333"/>
<path d="M404.4,948.6 L404.8,951.6 Q408,952.6 410.4,949.6 L410,946" stroke="#333"/>
<path d="M391.6,908.4 L394,905.6 L397,906.6 L438.4,938.4 L440,943.4 L437.6,946 L433.4,945.4 L432.6,941.6 L394.6,912.4 L394,914.6 L392,913.4 Z"/>
<path d="M394,905.6 L395.4,909.6 L436.4,941.4 L438.4,938.4 M395.4,909.6 L394.6,912.4 M436.4,941.4 L437.6,946" fill="none" stroke-width="0.6"/>
<ellipse cx="400.4" cy="914.4" rx="0.9" ry="1.5" transform="rotate(-35 400.4 914.4)"/><ellipse cx="409.6" cy="921.6" rx="0.9" ry="1.5" transform="rotate(-35 409.6 921.6)"/><ellipse cx="414.4" cy="925.2" rx="0.9" ry="1.5" transform="rotate(-35 414.4 925.2)"/><ellipse cx="425.8" cy="934" rx="1.2" ry="1.8" transform="rotate(-35 425.8 934)"/>
</g>
</g>
<!--/PARTICONS-->
</g>
<!--/PARTS-->
</svg>
</body>
</html>
